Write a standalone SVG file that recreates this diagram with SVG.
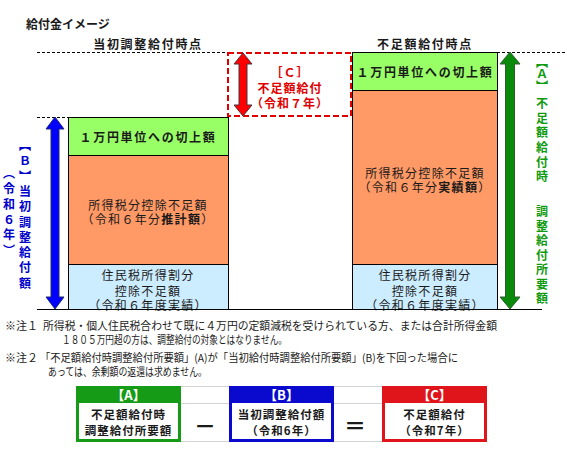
<svg xmlns="http://www.w3.org/2000/svg" width="567" height="457" viewBox="0 0 567 457">
<style>
text{font-family:"Noto Sans CJK JP","Noto Sans",sans-serif;fill:#1a1a1a;dominant-baseline:central}
.t{font-size:12px;text-anchor:middle}
.b{font-weight:bold}
.c{font-size:12px;text-anchor:middle;letter-spacing:1.3px}
.vert{writing-mode:vertical-rl;text-orientation:upright;font-size:12px;font-weight:bold}
.note{font-size:11px}
.dash{stroke:#000;stroke-width:1;stroke-dasharray:3 2;fill:none}
.box{stroke:#000;stroke-width:1}
.g{fill:#99FF66}.o{fill:#FF9966}.lb{fill:#CCECFF}
.grid{stroke:#d4d4d4;stroke-width:1}
.hd{font-size:13px;font-weight:bold;fill:#fff;text-anchor:middle}
.bd{font-size:11.5px;font-weight:bold;text-anchor:middle;letter-spacing:1px}
</style>

<text x="26" y="23" class="b" style="font-size:12px">給付金イメージ</text>
<text x="148" y="43" class="t b" style="letter-spacing:1.7px">当初調整給付時点</text>
<text x="425" y="43" class="t b" style="letter-spacing:1.7px">不足額給付時点</text>

<g id="guides">
<line x1="37" y1="52.5" x2="228" y2="52.5" class="dash"/>
<line x1="497" y1="52.5" x2="567" y2="52.5" class="dash"/>
<line x1="37" y1="117.5" x2="68" y2="117.5" class="dash"/>
</g>

<g id="left-column">
<rect x="68.5" y="117.5" width="160" height="38" class="box g"/>
<rect x="68.5" y="155.5" width="160" height="109" class="box o"/>
<rect x="68.5" y="264.5" width="160" height="45" class="box lb"/>
<text x="148" y="136" class="c b" style="letter-spacing:1.7px">１万円単位への切上額</text>
<text x="148" y="204" class="c">所得税分控除不足額</text>
<text x="148" y="218" class="c">（令和６年分<tspan class="b">推計額</tspan>）</text>
<text x="148" y="274" class="c">住民税所得割分</text>
<text x="148" y="290" class="c">控除不足額</text>
<text x="148" y="304" class="c">（令和６年度実績）</text>
</g>

<g id="right-column">
<rect x="352.5" y="52.5" width="145" height="38" class="box g"/>
<rect x="352.5" y="90.5" width="145" height="174" class="box o"/>
<rect x="352.5" y="264.5" width="145" height="45" class="box lb"/>
<text x="425" y="71" class="c b" style="letter-spacing:1.7px">１万円単位への切上額</text>
<text x="425" y="172" class="c">所得税分控除不足額</text>
<text x="425" y="186" class="c">（令和６年分<tspan class="b">実績額</tspan>）</text>
<text x="425" y="274" class="c">住民税所得割分</text>
<text x="425" y="290" class="c">控除不足額</text>
<text x="425" y="304" class="c">（令和６年度実績）</text>
</g>

<line x1="37" y1="309.5" x2="542" y2="309.5" stroke="#000" stroke-width="1"/>

<g id="c-box">
<rect x="228" y="53" width="123" height="63" fill="none" stroke="#E00000" stroke-width="2" stroke-dasharray="6 3"/>
<text x="290" y="71" class="t b" style="fill:#E00000;letter-spacing:1px">［Ｃ］</text>
<text x="290" y="87" class="t b" style="fill:#E00000;letter-spacing:1px">不足額給付</text>
<text x="290" y="102" class="t b" style="fill:#E00000;letter-spacing:1px">（令和７年）</text>
</g>

<g id="arrows">
<polygon points="243,53 252,64 247,64 247,105 252,105 243,116 234,105 239,105 239,64 234,64" fill="#FF0000" stroke="#4a3040" stroke-width="1"/>
<polygon points="55,117 64,129 59,129 59,297 64,297 55,309 46,297 51,297 51,129 46,129" fill="#0000FF" stroke="#1F2A6F" stroke-width="1"/>
<polygon points="510,52 520,64 514.5,64 514.5,297 520,297 510,309 500,297 505.5,297 505.5,64 500,64" fill="#0A8A0A" stroke="#2E5E2E" stroke-width="1"/>
</g>

<g id="label-b">
<text x="25" y="139.5" class="vert" style="fill:#0000CC;letter-spacing:3.3px">【Ｂ】当初調整給付額</text>
<text x="9" y="167.5" class="vert" style="fill:#0000CC;letter-spacing:3.3px">（令和６年）</text>
</g>

<g id="label-a">
<text x="542" y="56" class="vert" style="fill:#109A10">【Ａ】</text>
<text x="542" y="97.7" class="vert" style="fill:#109A10;letter-spacing:2.6px">不足額給付時</text>
<text x="542" y="205.7" class="vert" style="fill:#109A10;letter-spacing:2.5px">調整給付所要額</text>
</g>

<g id="notes">
<text x="5" y="325" class="note">※注１</text>
<text x="43" y="325" class="note" textLength="454" lengthAdjust="spacingAndGlyphs">所得税・個人住民税合わせて既に４万円の定額減税を受けられている方、または合計所得金額</text>
<text x="62" y="339" class="note" textLength="225" lengthAdjust="spacingAndGlyphs">１８０５万円超の方は、調整給付の対象とはなりません。</text>
<text x="5" y="357" class="note">※注２</text>
<text x="40" y="357" class="note" textLength="418" lengthAdjust="spacingAndGlyphs">「不足額給付時調整給付所要額」(A)が「当初給付時調整給付所要額」(B)を下回った場合に</text>
<text x="48" y="371" class="note" textLength="159" lengthAdjust="spacingAndGlyphs">あっては、余剰額の返還は求めません。</text>
</g>

<g id="grid">
<line x1="181" y1="386.5" x2="229" y2="386.5" class="grid"/>
<line x1="181" y1="403.5" x2="229" y2="403.5" class="grid"/>
<line x1="181" y1="441.5" x2="229" y2="441.5" class="grid"/>
<line x1="334" y1="386.5" x2="382" y2="386.5" class="grid"/>
<line x1="334" y1="403.5" x2="382" y2="403.5" class="grid"/>
<line x1="334" y1="441.5" x2="382" y2="441.5" class="grid"/>
</g>

<g id="formula-a">
<rect x="76" y="386" width="105" height="56" fill="#159B15"/>
<rect x="79" y="403" width="99" height="36" fill="#fff"/>
<text x="128.5" y="394.5" class="hd">【A】</text>
<text x="128.5" y="414" class="bd">不足額給付時</text>
<text x="128.5" y="429.5" class="bd">調整給付所要額</text>
</g>
<text x="205" y="424" class="t b" style="font-size:22px">－</text>
<g id="formula-b">
<rect x="229" y="386" width="105" height="56" fill="#0A0ACF"/>
<rect x="232" y="403" width="99" height="36" fill="#fff"/>
<text x="281.5" y="394.5" class="hd">【B】</text>
<text x="281.5" y="414" class="bd">当初調整給付額</text>
<text x="281.5" y="429.5" class="bd">（令和6年）</text>
</g>
<text x="355" y="424" class="t b" style="font-size:22px">＝</text>
<g id="formula-c">
<rect x="382" y="386" width="105" height="56" fill="#E0141B"/>
<rect x="385" y="403" width="99" height="36" fill="#fff"/>
<text x="434.5" y="394.5" class="hd">【C】</text>
<text x="434.5" y="414" class="bd">不足額給付</text>
<text x="434.5" y="429.5" class="bd">（令和7年）</text>
</g>
</svg>
